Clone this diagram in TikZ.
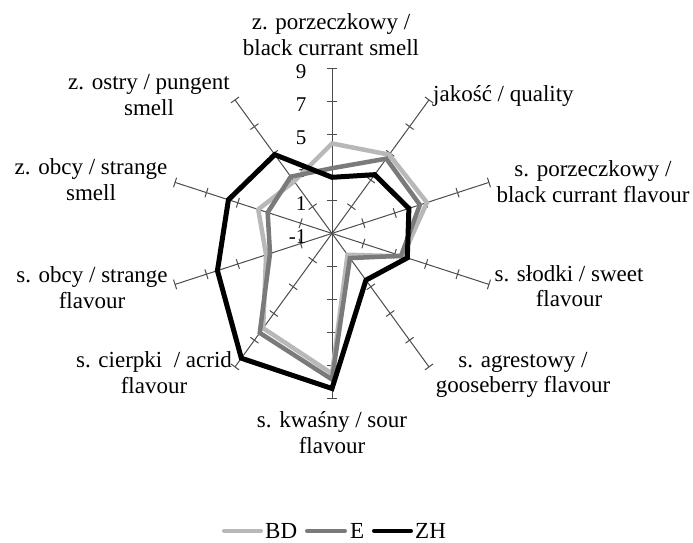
\documentclass[tikz,border=0pt]{standalone}
\usepackage{fontspec}
\setmainfont{Liberation Serif}
\usepackage{tikz}
\usetikzlibrary{positioning}
\definecolor{bdgray}{gray}{0.72}
\definecolor{egray}{gray}{0.48}
\definecolor{spokegray}{gray}{0.3}
\tikzstyle{spoke} = [draw=spokegray, line width=1pt]
\tikzstyle{ticklabel} = [
    anchor=east, inner sep=0pt,
    font=\fontsize{21}{21}\selectfont
]
\tikzstyle{catlabel} = [
    anchor=base, inner sep=0pt, align=center,
    font=\fontsize{23}{25.5}\selectfont
]
\tikzstyle{keylabel} = [
    anchor=west, inner sep=0pt,
    font=\fontsize{23}{23}\selectfont
]
\tikzstyle{bdline} = [draw=bdgray, line width=4.5pt]
\tikzstyle{eline} = [draw=egray, line width=4.5pt]
\tikzstyle{zhline} = [draw=black, line width=5pt]
\tikzstyle{keyline} = [line width=4.5pt, line cap=round]

\begin{document}
\begin{tikzpicture}[x=1pt, y=1pt]
        \useasboundingbox (-332,-308.6) rectangle (361,233.4);

        % Draw spokes
        \foreach \k in {0,...,9} {
            \begin{scope}[rotate={90-36*\k}]
                \draw [spoke] (0,0) -- (165,0);
                \foreach \r in {33,66,99,132,165}
                    \draw [spoke] (\r,-5) -- (\r,5);
            \end{scope}
        }

        % Draw scale
        \node (s9) [ticklabel] at (-25.5,162) {9};
        \node (s7) [ticklabel] at (-25.5,129) {7};
        \node (s5) [ticklabel] at (-25.5,96) {5};
        \node (s3) [ticklabel] at (-25.5,63) {3};
        \node (s1) [ticklabel] at (-25.5,30) {1};
        \node (sm1) [ticklabel] at (-25.5,-3) {-1};

        % Draw labels (base = last line)
        \node (smell) [catlabel] at (-1,178.4) {z. porzeczkowy /\\black currant smell};
        \node (quality) [catlabel, anchor=base west] at (101,131.7) {jakość / quality};
        \node (flavour) [catlabel] at (261,31.4) {s. porzeczkowy /\\black currant flavour};
        \node (sweet) [catlabel] at (237,-73.3) {s. słodki / sweet\\flavour};
        \node (goose) [catlabel] at (191,-159.1) {s. agrestowy /\\gooseberry flavour};
        \node (sour) [catlabel] at (0,-219.9) {s. kwaśny / sour\\flavour};
        \node (acrid) [catlabel] at (-178,-159.9) {s. cierpki~ / acrid\\flavour};
        \node (strangef) [catlabel] at (-240,-74.9) {s. obcy / strange\\flavour};
        \node (stranges) [catlabel] at (-241,33.4) {z. obcy / strange\\smell};
        \node (pungent) [catlabel] at (-183,118.4) {z. ostry / pungent\\smell};

        % Draw series
        \foreach \v [count=\k from 0] in {4.45,4.9,5.05,3.5,0.6,7.5,6.1,3.2,3.7,2.9}
            \coordinate (bd\k) at ({90-36*\k}:{(\v+1)*16.5});
        \foreach \v [count=\k from 0] in {2.95,4.6,4.6,3.4,0.85,7.85,6.45,2.95,3.1,3.25}
            \coordinate (e\k) at ({90-36*\k}:{(\v+1)*16.5});
        \foreach \v [count=\k from 0] in {2.4,3.4,3.9,3.8,2.5,8.4,8.35,6.3,5.6,4.9}
            \coordinate (zh\k) at ({90-36*\k}:{(\v+1)*16.5});
        \draw [bdline] (bd0) -- (bd1) -- (bd2) -- (bd3) -- (bd4) -- (bd5) -- (bd6) -- (bd7) -- (bd8) -- (bd9) -- cycle;
        \draw [eline] (e0) -- (e1) -- (e2) -- (e3) -- (e4) -- (e5) -- (e6) -- (e7) -- (e8) -- (e9) -- cycle;
        \draw [zhline] (zh0) -- (zh1) -- (zh2) -- (zh3) -- (zh4) -- (zh5) -- (zh6) -- (zh7) -- (zh8) -- (zh9) -- cycle;

        % Draw legend
        \coordinate (kbd) at (-107.75,-297.4);
        \coordinate (ke) at (-24.75,-297.4);
        \coordinate (kzh) at (42.25,-297.4);
        \node (bdkey) [keylabel] at (-67,-297.4) {BD};
        \node (ekey) [keylabel] at (18,-297.4) {E};
        \node (zhkey) [keylabel] at (83,-297.4) {ZH};
        \draw [keyline, draw=bdgray] (kbd) -- ([xshift=-4.25pt]bdkey.west);
        \draw [keyline, draw=egray] (ke) -- ([xshift=-5.25pt]ekey.west);
        \draw [keyline, draw=black] (kzh) -- ([xshift=-4.25pt]zhkey.west);
    \end{tikzpicture}
\end{document}
